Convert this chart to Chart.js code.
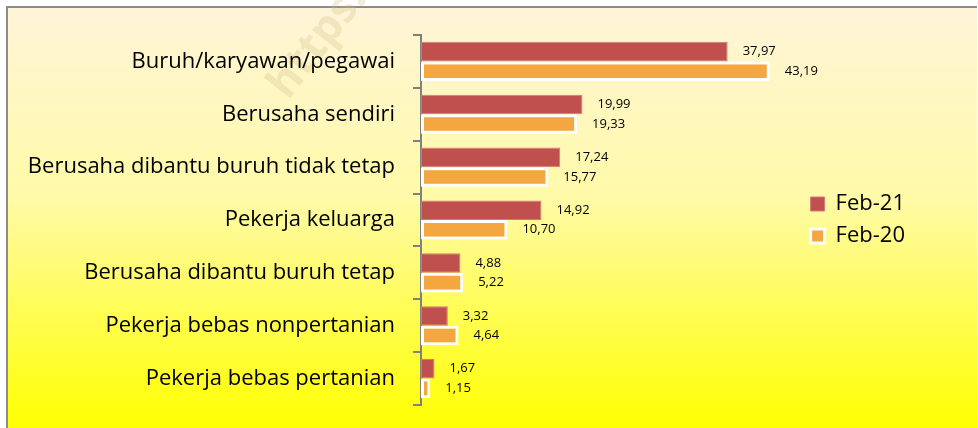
<!DOCTYPE html>
<html>
<head>
<meta charset="utf-8">
<script src="https://cdn.jsdelivr.net/npm/chart.js@4.4.1/dist/chart.umd.min.js"></script>
<style>
  html, body { margin: 0; padding: 0; background: #ffffff; }
  #wrap { position: relative; width: 978px; height: 428px; }
</style>
</head>
<body>
<div id="wrap"><canvas id="c" width="978" height="428"></canvas></div>
<script>
const categories = [
  "Buruh/karyawan/pegawai",
  "Berusaha sendiri",
  "Berusaha dibantu buruh tidak tetap",
  "Pekerja keluarga",
  "Berusaha dibantu buruh tetap",
  "Pekerja bebas nonpertanian",
  "Pekerja bebas pertanian"
];
const seriesNames = ["Feb-21", "Feb-20"];
const feb21 = [37.97, 19.99, 17.24, 14.92, 4.88, 3.32, 1.67];
const feb20 = [43.19, 19.33, 15.77, 10.70, 5.22, 4.64, 1.15];

const FONT = "'Open Sans', 'Noto Sans', sans-serif";

const bgPlugin = {
  id: 'bg',
  beforeDraw(chart) {
    const ctx = chart.ctx;
    const W = chart.width, H = chart.height;
    ctx.save();
    ctx.fillStyle = '#ffffff';
    ctx.fillRect(0, 0, W, H);
    const g = ctx.createLinearGradient(0, 7, 0, H);
    g.addColorStop(0, '#FFF4D8');
    g.addColorStop(0.45, '#FFFAA8');
    g.addColorStop(1, '#FFFF00');
    ctx.fillStyle = g;
    ctx.fillRect(7, 8, W - 8, H - 8);
    ctx.strokeStyle = '#8c8c8c';
    ctx.lineWidth = 2;
    ctx.beginPath();
    ctx.moveTo(7, H + 2);
    ctx.lineTo(7, 7);
    ctx.lineTo(W - 1, 7);
    ctx.stroke();
    // watermark
    ctx.translate(318, 42);
    ctx.rotate(-52 * Math.PI / 180);
    ctx.font = "bold 44px " + FONT;
    ctx.fillStyle = 'rgba(205,185,130,0.28)';
    ctx.textAlign = 'center';
    ctx.textBaseline = 'middle';
    ctx.fillText('https:', 0, 0);
    ctx.restore();
  }
};

const labelPlugin = {
  id: 'vlabels',
  afterDatasetsDraw(chart) {
    const ctx = chart.ctx;
    ctx.save();
    ctx.font = "13px " + FONT;
    ctx.fillStyle = '#000000';
    ctx.textAlign = 'left';
    ctx.textBaseline = 'middle';
    chart.data.datasets.forEach((ds, di) => {
      const meta = chart.getDatasetMeta(di);
      meta.data.forEach((el, i) => {
        const v = ds.data[i];
        const txt = v.toFixed(2).replace('.', ',');
        ctx.fillText(txt, el.x + 15, el.y);
      });
    });
    ctx.restore();
  }
};

new Chart(document.getElementById('c'), {
  type: 'bar',
  data: {
    labels: categories,
    datasets: [
      {
        label: seriesNames[0],
        data: feb21,
        backgroundColor: '#C0504D',
        borderColor: '#D27A77',
        borderWidth: 1,
        borderSkipped: false,
        categoryPercentage: 0.74,
        barPercentage: 1.0
      },
      {
        label: seriesNames[1],
        data: feb20,
        backgroundColor: '#F4A640',
        borderColor: '#FFFFFF',
        borderWidth: 3,
        borderSkipped: false,
        categoryPercentage: 0.74,
        barPercentage: 1.0
      }
    ]
  },
  options: {
    indexAxis: 'y',
    responsive: false,
    animation: false,
    devicePixelRatio: 1,
    layout: { padding: { top: 35, bottom: 23, left: 0, right: 63 } },
    scales: {
      x: {
        display: false,
        min: 0,
        max: 47,
        grid: { display: false }
      },
      y: {
        offset: true,
        afterFit(scale) {
          scale.width = 421;
          scale.paddingTop = 0;
          scale.paddingBottom = 0;
        },
        grid: {
          offset: true,
          drawOnChartArea: false,
          drawTicks: true,
          tickLength: 8,
          color: '#808080',
          lineWidth: 2
        },
        border: { display: true, color: '#808080', width: 2 },
        ticks: {
          color: '#000000',
          font: { family: FONT, size: 22 },
          padding: 18
        }
      }
    },
    plugins: {
      legend: {
        position: 'right',
        align: 'center',
        labels: {
          color: '#000000',
          font: { family: FONT, size: 22 },
          boxWidth: 14,
          boxHeight: 14,
          padding: 10
        }
      },
      tooltip: { enabled: false }
    }
  },
  plugins: [bgPlugin, labelPlugin]
});
</script>
</body>
</html>
